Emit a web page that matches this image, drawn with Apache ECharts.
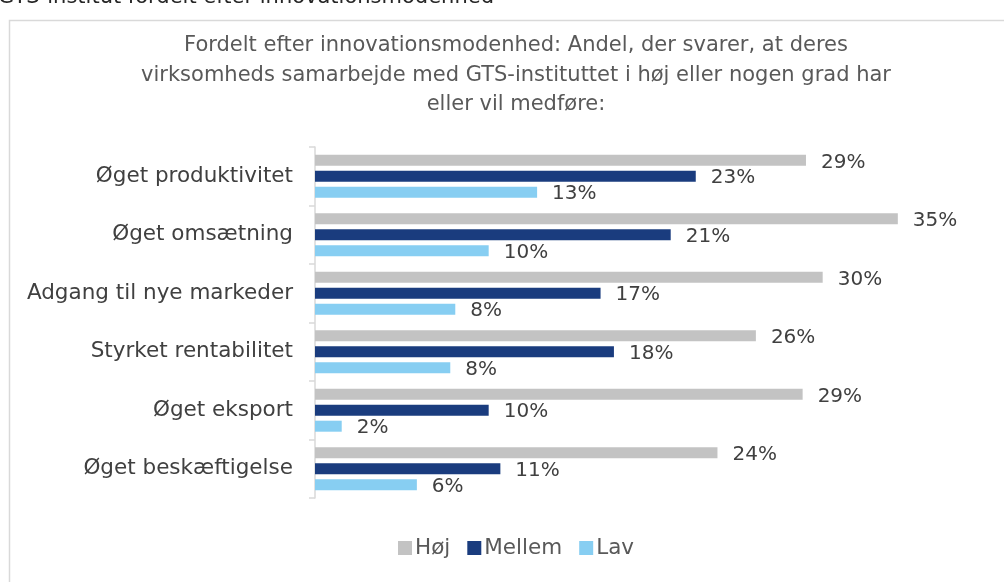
<!DOCTYPE html>
<html>
<head>
<meta charset="utf-8">
<script src="https://cdn.jsdelivr.net/npm/echarts@6/dist/echarts.min.js"></script>
<style>
  html, body { margin: 0; padding: 0; background: #fff; }
  #chart { width: 1004px; height: 582px; }
</style>
</head>
<body>
<div id="chart"></div>
<script>
// kategorier, oppefra og ned
const categories = ['Øget produktivitet', 'Øget omsætning', 'Adgang til nye markeder',
  'Styrket rentabilitet', 'Øget eksport', 'Øget beskæftigelse']

// andele i procent
const hoj = [29.4, 34.9, 30.4, 26.4, 29.2, 24.1]
const mellem = [22.8, 21.3, 17.1, 17.9, 10.4, 11.1]
const lav = [13.3, 10.4, 8.4, 8.1, 1.6, 6.1]

const seriesNames = ['Høj', 'Mellem', 'Lav']
const colors = ['#c3c3c3', '#1a3c7e', '#87cef2']

const font = '"DejaVu Sans", sans-serif'

let chart = echarts.init(document.getElementById('chart'))

const makeSeries = (name, data, color) => ({
  name: name,
  type: 'bar',
  data: data,
  barWidth: 11,
  barGap: '45%',
  itemStyle: { color: color },
  label: {
    show: true,
    position: 'right',
    distance: 15,
    color: '#404040',
    fontFamily: font,
    fontSize: 20,
    offset: [0, 2],
    formatter: p => Math.round(p.value) + '%'
  }
})

chart.setOption({
  animation: false,
  title: {
    text: 'Fordelt efter innovationsmodenhed: Andel, der svarer, at deres\nvirksomheds samarbejde med GTS-instituttet i høj eller nogen grad har\neller vil medføre:',
    left: 511,
    top: 26,
    textAlign: 'center',
    textStyle: {
      fontFamily: font,
      fontWeight: 'normal',
      fontSize: 21,
      lineHeight: 29.5,
      color: '#595959'
    }
  },
  graphic: [
    {
      type: 'rect',
      shape: { x: 9.5, y: 20.5, width: 1010, height: 600 },
      style: { fill: 'none', stroke: '#d9d9d9', lineWidth: 1.5 },
      silent: true
    },
    {
      type: 'text',
      x: -2,
      y: 8,
      style: {
        text: 'GTS-institut fordelt efter innovationsmodenhed',
        fontFamily: font,
        fontSize: 21,
        fill: '#262626',
        verticalAlign: 'bottom'
      }
    }
  ],
  legend: {
    data: seriesNames,
    bottom: 18,
    left: 393,
    itemWidth: 14,
    itemHeight: 14,
    itemGap: 17,
    icon: 'rect',
    textStyle: { fontFamily: font, fontSize: 21.5, color: '#595959', padding: [0, 0, 0, -2] }
  },
  grid: { left: 315, right: 21, top: 147, bottom: 84, containLabel: false },
  xAxis: {
    type: 'value',
    min: 0,
    max: 40,
    show: false
  },
  yAxis: {
    type: 'category',
    data: categories,
    inverse: true,
    axisLine: { show: true, lineStyle: { color: '#d9d9d9', width: 1.5 } },
    axisTick: { show: true, length: 6, lineStyle: { color: '#d9d9d9', width: 1.5 } },
    axisLabel: { margin: 22, fontFamily: font, fontSize: 21.5, color: '#404040' }
  },
  series: [
    makeSeries(seriesNames[0], hoj, colors[0]),
    makeSeries(seriesNames[1], mellem, colors[1]),
    makeSeries(seriesNames[2], lav, colors[2])
  ]
})
</script>
</body>
</html>
